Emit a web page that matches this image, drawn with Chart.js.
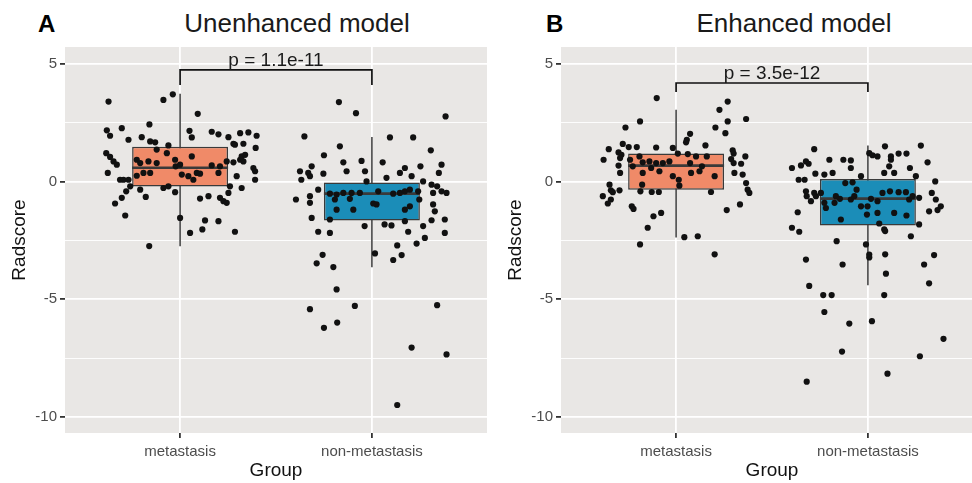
<!DOCTYPE html>
<html>
<head>
<meta charset="utf-8">
<script src="https://cdn.jsdelivr.net/npm/chart.js@4.4.0/dist/chart.umd.min.js"></script>
<style>
  html, body { margin: 0; padding: 0; background: #fff; overflow: hidden; width: 972px; height: 483px; }
  canvas { position: absolute; top: 0; }
  #chartA { left: 0; }
  #chartB { left: 496px; }
  .tag { position: absolute; top: 12px; font: bold 24px "Liberation Sans", Arial, sans-serif; line-height: 24px; color: #000; }
  .ttl { position: absolute; top: 10px; width: 400px; text-align: center; font: 26px "Liberation Sans", Arial, sans-serif; line-height: 26px; color: #1a1a1a; }
</style>
</head>
<body>
<div class="tag" style="left:38px">A</div>
<div class="ttl" style="left:97px">Unenhanced model</div>
<div class="tag" style="left:546px">B</div>
<div class="ttl" style="left:594px">Enhanced model</div>
<canvas id="chartA" width="487" height="483"></canvas>
<canvas id="chartB" width="487" height="483"></canvas>
<script>
const FONT = '"Liberation Sans", Arial, sans-serif';
const groups = ["metastasis", "non-metastasis"];
const xTicks = [1, 2];
const yTicks = [-10, -7.5, -5, -2.5, 0, 2.5, 5];
const boxColors = ["#F08A68", "#1B8DB8"];

// [whisker low, q1, median, q3, whisker high] per group
const unenhancedBox = [[-2.75, -0.21, 0.59, 1.48, 3.73], [-3.64, -1.65, -0.51, 0.0, 1.9]];
const enhancedBox = [[-2.37, -0.34, 0.68, 1.19, 3.05], [-4.4, -1.86, -0.72, 0.11, 1.53]];

// bracket: [leg end, bar, label baseline]
const unenhancedBracket = [4.11, 4.75, 4.9];
const enhancedBracket = [3.81, 4.19, 4.36];
const unenhancedP = "p = 1.1e-11";
const enhancedP = "p = 3.5e-12";

// jittered points: [jitter, radscore]
const unenhancedMet = [
  [-0.373,3.40],[-0.038,3.71],[-0.087,3.47],[0.092,2.88],[-0.382,2.18],[-0.365,1.95],[-0.304,2.27],[-0.160,2.43],
  [-0.269,1.78],[-0.200,1.89],[-0.156,1.71],[-0.130,1.67],[-0.061,1.54],[0.061,1.88],[0.049,2.16],[0.165,2.12],
  [0.200,2.01],[0.252,1.89],[0.278,1.61],[0.313,2.06],[0.356,2.09],[0.399,1.95],[0.330,1.61],[0.394,1.43],
  [-0.385,1.21],[-0.365,1.05],[-0.347,0.86],[-0.330,0.72],[-0.377,0.37],[-0.313,0.08],[-0.295,0.08],[-0.269,0.08],
  [-0.260,-0.20],[-0.281,-0.41],[-0.208,-0.34],[-0.179,-0.65],[-0.339,-0.93],[-0.286,-1.44],[-0.304,-0.69],[-0.226,0.93],
  [-0.208,0.79],[-0.165,0.86],[-0.122,0.79],[-0.122,1.36],[-0.069,1.21],[-0.026,0.93],[-0.023,0.65],[0.000,0.72],
  [0.009,0.30],[0.061,1.07],[0.043,0.23],[0.069,0.08],[0.087,0.37],[0.104,0.34],[-0.087,-0.27],[-0.061,-0.20],
  [-0.026,-0.45],[-0.226,0.25],[-0.191,0.37],[-0.156,0.37],[0.165,0.69],[0.200,0.37],[0.208,0.65],[0.243,0.86],
  [0.260,-0.20],[0.252,-0.48],[0.208,-0.69],[0.226,-0.83],[0.243,-0.90],[0.278,0.82],[0.286,1.57],[0.295,0.23],
  [0.313,0.93],[0.321,1.07],[0.321,-0.27],[0.330,0.86],[0.339,1.14],[0.382,0.58],[0.391,0.44],[0.391,0.08],
  [0.104,-0.72],[0.148,-0.62],[0.000,-1.54],[0.052,-2.18],[0.116,-2.03],[0.130,-1.65],[0.200,-1.68],[0.286,-2.13],
  [-0.161,-2.74]
];
const unenhancedNon = [
  [-0.172,3.38],[-0.083,2.91],[0.384,2.77],[-0.352,1.92],[0.094,1.88],[0.215,1.88],[-0.167,1.50],[0.307,1.33],
  [-0.250,1.12],[-0.149,0.82],[-0.054,0.88],[0.056,0.82],[0.363,0.72],[-0.314,0.65],[0.172,0.58],[0.253,0.65],
  [0.349,0.37],[-0.375,0.44],[-0.332,0.37],[-0.368,0.08],[-0.323,0.23],[-0.253,0.34],[-0.132,0.44],[-0.036,0.44],
  [0.076,0.16],[0.146,0.37],[0.207,0.23],[0.267,0.01],[0.311,-0.13],[0.340,-0.20],[0.363,-0.41],[0.389,-0.48],
  [0.319,-0.48],[-0.280,-0.34],[-0.323,-0.62],[-0.396,-0.76],[-0.323,-0.90],[-0.314,-1.54],[-0.219,-0.51],[-0.184,-0.55],
  [-0.149,-0.48],[-0.106,-0.48],[-0.063,-0.48],[-0.028,0.01],[0.033,-0.41],[0.111,-0.51],[0.146,-0.48],[0.172,-0.41],
  [0.198,-0.34],[0.241,-0.41],[0.247,-0.76],[-0.193,-0.76],[-0.115,-0.73],[0.024,-0.97],[-0.184,-1.19],[-0.097,-1.19],
  [0.007,-0.93],[0.172,-1.19],[0.198,-1.05],[0.319,-0.97],[0.328,-1.26],[0.311,-1.64],[0.380,-1.61],[-0.219,-1.61],
  [0.102,-1.86],[0.172,-1.68],[0.267,-1.89],[-0.280,-2.13],[-0.219,-2.18],[0.189,-2.13],[0.276,-2.39],[0.380,-2.18],
  [0.132,-2.71],[0.233,-2.63],[-0.257,-3.11],[-0.288,-3.47],[-0.201,-3.63],[0.016,-3.05],[0.111,-3.33],[0.155,-3.12],
  [-0.184,-4.58],[-0.323,-5.42],[-0.089,-5.28],[-0.250,-6.21],[-0.181,-5.99],[0.340,-5.25],[0.207,-7.05],[0.389,-7.34],
  [0.132,-9.49],[-0.038,-1.89],[0.066,-1.82]
];
const enhancedMet = [
  [-0.101,3.55],[0.269,3.40],[0.226,3.05],[0.269,2.56],[0.365,2.66],[-0.188,2.56],[-0.264,2.30],[0.205,2.30],
  [0.257,2.06],[0.073,2.03],[0.056,1.78],[0.052,1.67],[0.153,1.54],[-0.278,1.60],[-0.351,1.38],[-0.247,1.47],
  [-0.205,1.47],[-0.104,1.45],[-0.017,1.43],[-0.300,1.24],[-0.285,1.14],[-0.292,1.00],[-0.378,0.93],[0.295,1.33],
  [0.300,1.19],[0.361,1.07],[0.287,0.96],[0.300,0.79],[0.339,0.76],[-0.300,0.68],[-0.292,0.37],[-0.240,0.93],
  [-0.226,0.65],[-0.191,1.07],[-0.174,0.82],[-0.139,0.86],[-0.104,0.79],[-0.069,0.79],[-0.035,0.86],[0.009,1.19],
  [0.061,1.17],[0.073,0.79],[0.104,1.07],[0.160,1.07],[0.135,0.65],[-0.174,0.37],[-0.130,0.58],[-0.087,0.44],
  [-0.017,0.23],[0.014,0.08],[0.017,-0.17],[0.078,0.37],[0.122,0.44],[0.201,0.23],[-0.177,-0.13],[-0.186,-0.41],
  [-0.127,-0.44],[-0.090,-0.44],[0.182,-0.44],[0.304,0.37],[0.347,0.30],[0.365,-0.06],[0.373,-0.34],[0.382,-0.48],
  [-0.347,-0.13],[-0.340,-0.37],[-0.330,-0.45],[-0.295,-0.37],[-0.382,-0.62],[-0.340,-0.76],[-0.356,-0.93],[-0.231,-1.05],
  [-0.222,-1.16],[-0.118,-1.47],[-0.078,-1.33],[-0.148,-1.96],[0.264,-1.21],[0.333,-0.97],[0.043,-2.36],[0.113,-2.32],
  [-0.188,-2.67],[0.201,-3.09]
];
const enhancedNon = [
  [0.276,1.53],[0.089,1.50],[-0.280,1.38],[0.007,1.21],[0.024,1.12],[0.050,1.07],[0.120,1.07],[0.160,1.19],
  [0.201,1.19],[-0.201,0.93],[-0.128,0.93],[-0.089,0.90],[0.311,0.82],[-0.323,0.86],[-0.309,0.76],[-0.349,0.69],
  [-0.396,0.58],[-0.089,0.58],[0.085,0.37],[0.137,0.37],[0.219,0.58],[0.250,0.23],[0.111,0.65],[0.120,0.93],
  [-0.274,0.34],[-0.227,0.30],[-0.184,0.37],[-0.036,0.23],[-0.080,-0.03],[-0.118,-0.06],[-0.361,0.08],[-0.330,0.08],
  [0.351,0.01],[-0.323,-0.41],[-0.319,-0.62],[-0.297,-0.83],[-0.271,-0.62],[-0.280,-0.48],[-0.245,-0.48],[-0.227,-0.90],
  [-0.219,-1.12],[-0.167,-0.62],[-0.174,-0.90],[-0.146,-0.73],[-0.089,-0.76],[-0.071,-0.62],[-0.059,-0.34],[-0.036,-1.05],
  [-0.002,-1.05],[0.016,-0.73],[0.050,-0.83],[0.076,-0.48],[0.115,-0.41],[0.160,-0.45],[0.198,-0.45],[0.215,-0.76],
  [0.233,-0.62],[0.267,-0.69],[0.333,-0.48],[0.354,-0.76],[0.380,-1.05],[0.363,-1.21],[0.319,-1.26],[-0.005,-1.40],
  [0.050,-1.33],[0.137,-1.33],[0.201,-1.44],[-0.366,-1.30],[-0.141,-1.61],[0.059,-1.78],[0.085,-2.03],[0.267,-1.82],
  [0.224,-2.32],[-0.396,-1.96],[-0.358,-2.13],[-0.163,-2.53],[-0.010,-2.67],[0.007,-3.10],[0.007,-3.22],[0.090,-3.09],
  [0.345,-3.12],[0.293,-3.52],[-0.323,-3.31],[-0.132,-3.52],[0.094,-3.91],[0.319,-4.32],[-0.306,-4.43],[-0.233,-4.82],
  [-0.189,-4.82],[0.085,-4.82],[-0.227,-5.54],[-0.097,-6.03],[0.021,-5.93],[0.394,-6.68],[-0.135,-7.22],[0.271,-7.42],
  [0.102,-8.16],[-0.319,-8.50],[0.090,-2.10]
];

// grey panel behind the grid + p-value label over the bracket
const panelPlugin = {
  id: "panel",
  beforeDraw(chart) {
    const a = chart.chartArea, c = chart.ctx;
    c.save();
    c.fillStyle = "#E9E7E5";
    c.fillRect(a.left, a.top, a.right - a.left, a.bottom - a.top);
    c.restore();
  },
  afterDatasetsDraw(chart, args, opts) {
    const c = chart.ctx;
    c.save();
    c.font = "19px " + FONT;
    c.fillStyle = "#1a1a1a";
    c.textAlign = "center";
    c.textBaseline = "alphabetic";
    c.fillText(opts.text, chart.scales.x.getPixelForValue(1.5), chart.scales.y.getPixelForValue(opts.at));
    c.restore();
  }
};

function isMajor(ctx) { return ctx.tick && ctx.tick.value % 5 === 0; }

function makeChart(id, boxes, pts, bracket, pText) {
  const points = [];
  pts.forEach((g, gi) => g.forEach(p => points.push({x: gi + 1 + p[0], y: p[1]})));
  const datasets = [
    {type: "scatter", data: points, pointRadius: 3.1, backgroundColor: "#111", borderWidth: 0, order: 0},
    {type: "scatter", data: boxes.map((b, i) => ({x: i + 1, y: b[2]})), pointStyle: "line",
      pointRadius: 48, borderColor: "#3a3a3a", borderWidth: 2.6, order: 1},
    {type: "bar", data: boxes.map((b, i) => ({x: i + 1, y: [b[1], b[3]]})), backgroundColor: boxColors,
      borderColor: "#3a3a3a", borderWidth: 1.5, borderSkipped: false, barPercentage: 0.5, categoryPercentage: 1, order: 2},
    {type: "line", data: [{x: 1, y: bracket[0]}, {x: 1, y: bracket[1]}, {x: 2, y: bracket[1]}, {x: 2, y: bracket[0]}],
      borderColor: "#111", borderWidth: 1.7, pointRadius: 0, order: 5}
  ];
  boxes.forEach((b, i) => datasets.push({type: "line", data: [{x: i + 1, y: b[0]}, {x: i + 1, y: b[4]}],
    borderColor: "#3a3a3a", borderWidth: 1.5, pointRadius: 0, order: 3}));

  return new Chart(document.getElementById(id), {
    type: "scatter",
    data: {datasets: datasets},
    plugins: [panelPlugin],
    options: {
      responsive: false,
      animation: false,
      layout: {autoPadding: false, padding: {top: 47, left: 0, right: 0, bottom: 0}},
      plugins: {legend: {display: false}, tooltip: {enabled: false}, panel: {text: pText, at: bracket[2]}},
      scales: {
        x: {
          type: "linear", min: 0.4, max: 2.6, offset: false,
          afterBuildTicks: s => { s.ticks = xTicks.map(v => ({value: v})); },
          afterFit: s => { s.height = 50; s.paddingLeft = 0; s.paddingRight = 0; },
          ticks: {autoSkip: false, maxRotation: 0, padding: 5, color: "#4D4D4D", font: {family: FONT, size: 15},
            callback: v => groups[v - 1]},
          grid: {color: "#fff", lineWidth: 1.8, tickColor: "#333", tickLength: 5, offset: false},
          border: {display: false},
          title: {display: true, text: "Group", color: "#111", font: {family: FONT, size: 19}, padding: {top: 0, bottom: 1}}
        },
        y: {
          type: "linear", min: -10.68, max: 5.72,
          afterBuildTicks: s => { s.ticks = yTicks.map(v => ({value: v})); },
          afterFit: s => { s.width = 65; s.paddingTop = 0; s.paddingBottom = 0; },
          ticks: {autoSkip: false, padding: 3, color: "#4D4D4D", font: {family: FONT, size: 15},
            callback: v => (v % 5 === 0 ? String(v) : "")},
          grid: {color: "#fff", lineWidth: ctx => (isMajor(ctx) ? 1.8 : 0.9),
            tickColor: ctx => (isMajor(ctx) ? "#333" : "rgba(0,0,0,0)"), tickLength: 5},
          border: {display: false},
          title: {display: true, text: "Radscore", color: "#111", font: {family: FONT, size: 19}, padding: {top: 8, bottom: 0}}
        }
      }
    }
  });
}

makeChart("chartA", unenhancedBox, [unenhancedMet, unenhancedNon], unenhancedBracket, unenhancedP);
makeChart("chartB", enhancedBox, [enhancedMet, enhancedNon], enhancedBracket, enhancedP);
</script>
</body>
</html>
